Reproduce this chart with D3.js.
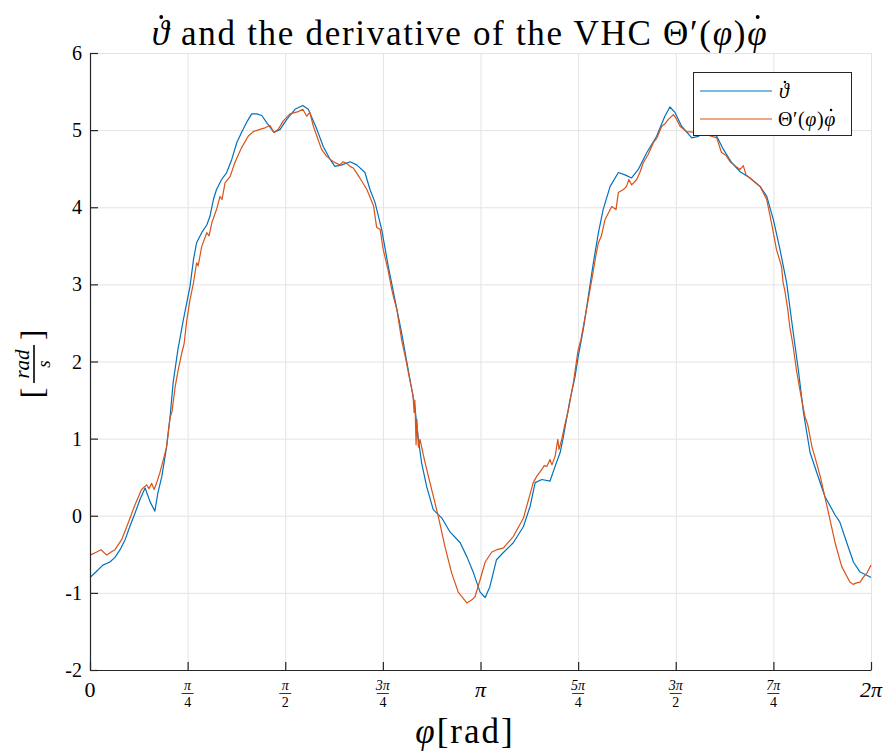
<!DOCTYPE html>
<html>
<head>
<meta charset="utf-8">
<script src="https://cdn.jsdelivr.net/npm/d3@7"></script>
<style>
  html, body { margin: 0; padding: 0; background: #fff; }
  svg { display: block; }
  text { font-family: "Liberation Serif", "DejaVu Serif", serif; fill: #000; }
</style>
</head>
<body>
<svg id="chart" width="888" height="753"></svg>
<script>
// ---- data (phi expressed in multiples of pi) ----
const thetaDotPhi = [0.000,0.015,0.033,0.051,0.064,0.077,0.090,0.102,0.115,0.128,0.141,0.154,0.166,0.174,0.184,0.196,0.205,0.213,0.225,0.239,0.256,0.265,0.273,0.286,0.299,0.307,0.316,0.324,0.337,0.350,0.363,0.376,0.388,0.401,0.414,0.427,0.440,0.452,0.471,0.487,0.504,0.525,0.545,0.559,0.581,0.597,0.615,0.627,0.645,0.666,0.683,0.704,0.717,0.730,0.747,0.764,0.781,0.798,0.815,0.832,0.841,0.849,0.862,0.879,0.901,0.922,0.948,0.965,0.982,0.999,1.012,1.024,1.041,1.058,1.084,1.110,1.127,1.140,1.157,1.178,1.191,1.204,1.212,1.229,1.242,1.250,1.263,1.276,1.289,1.302,1.314,1.332,1.353,1.370,1.387,1.404,1.426,1.451,1.472,1.485,1.498,1.515,1.541,1.558,1.579,1.605,1.622,1.643,1.665,1.690,1.716,1.733,1.750,1.767,1.784,1.801,1.814,1.827,1.844,1.861,1.882,1.908,1.920,1.938,1.955,1.972,1.997,2.000];
const thetaDot = [-0.80,-0.73,-0.64,-0.60,-0.54,-0.44,-0.31,-0.14,0.03,0.21,0.36,0.18,0.06,0.30,0.51,0.89,1.28,1.73,2.15,2.54,2.97,3.32,3.54,3.67,3.77,3.88,4.10,4.23,4.36,4.45,4.62,4.84,4.97,5.10,5.21,5.21,5.19,5.10,4.97,5.01,5.14,5.27,5.32,5.27,5.01,4.79,4.62,4.53,4.55,4.59,4.55,4.45,4.23,4.06,3.71,3.23,2.80,2.37,1.89,1.41,0.99,0.69,0.38,0.08,-0.03,-0.21,-0.35,-0.53,-0.74,-0.99,-1.06,-0.92,-0.57,-0.48,-0.35,-0.14,0.12,0.43,0.47,0.45,0.64,0.82,1.02,1.50,1.80,2.06,2.41,2.84,3.28,3.67,3.97,4.27,4.45,4.42,4.38,4.49,4.71,4.92,5.18,5.30,5.23,5.05,4.90,4.92,4.97,4.92,4.75,4.58,4.46,4.38,4.27,4.14,3.84,3.45,3.02,2.37,1.89,1.34,0.82,0.56,0.25,0.01,-0.08,-0.35,-0.60,-0.73,-0.79,-0.80];

const vhcPhi = [0.000,0.017,0.028,0.043,0.054,0.064,0.081,0.098,0.115,0.132,0.145,0.151,0.158,0.164,0.171,0.179,0.188,0.196,0.205,0.210,0.218,0.225,0.235,0.241,0.248,0.256,0.265,0.273,0.277,0.286,0.299,0.305,0.312,0.324,0.333,0.338,0.346,0.359,0.371,0.388,0.405,0.418,0.435,0.448,0.461,0.471,0.482,0.495,0.512,0.533,0.545,0.555,0.563,0.572,0.581,0.593,0.606,0.623,0.640,0.648,0.657,0.666,0.674,0.691,0.709,0.726,0.734,0.743,0.751,0.763,0.768,0.773,0.777,0.786,0.798,0.809,0.819,0.827,0.830,0.832,0.835,0.837,0.841,0.845,0.858,0.875,0.892,0.909,0.926,0.943,0.965,0.978,0.986,0.999,1.012,1.029,1.042,1.058,1.084,1.110,1.135,1.144,1.157,1.163,1.170,1.178,1.183,1.191,1.198,1.201,1.208,1.216,1.225,1.238,1.250,1.257,1.268,1.285,1.296,1.302,1.309,1.319,1.336,1.347,1.353,1.366,1.374,1.380,1.387,1.400,1.408,1.417,1.429,1.443,1.452,1.464,1.472,1.481,1.494,1.500,1.511,1.528,1.554,1.579,1.605,1.617,1.629,1.639,1.654,1.665,1.673,1.680,1.690,1.716,1.733,1.745,1.758,1.764,1.771,1.775,1.779,1.787,1.792,1.800,1.809,1.818,1.831,1.838,1.849,1.857,1.870,1.891,1.908,1.925,1.946,1.954,1.963,1.972,1.980,1.990,2.000];
const vhcDeriv = [-0.51,-0.47,-0.44,-0.51,-0.47,-0.44,-0.31,-0.09,0.14,0.34,0.40,0.35,0.42,0.34,0.43,0.56,0.73,0.89,1.27,1.35,1.67,1.87,2.11,2.23,2.54,2.80,3.02,3.28,3.24,3.49,3.67,3.63,3.80,3.97,4.14,4.10,4.32,4.40,4.58,4.77,4.92,4.98,5.01,5.03,5.06,4.97,5.01,5.12,5.21,5.24,5.27,5.18,5.23,5.05,4.92,4.75,4.66,4.59,4.55,4.59,4.57,4.53,4.51,4.38,4.23,4.02,3.74,3.71,3.45,3.19,3.06,2.93,2.84,2.67,2.28,2.02,1.76,1.57,1.34,1.50,0.92,1.25,0.89,0.99,0.69,0.34,-0.01,-0.40,-0.74,-0.99,-1.13,-1.09,-1.05,-0.83,-0.60,-0.47,-0.44,-0.42,-0.27,-0.03,0.43,0.51,0.60,0.65,0.64,0.73,0.66,0.77,0.99,0.86,0.99,1.18,1.37,1.73,2.15,2.28,2.58,3.06,3.39,3.54,3.62,3.84,4.01,3.97,4.19,4.23,4.27,4.36,4.29,4.36,4.45,4.58,4.68,4.84,4.90,5.05,5.08,5.14,5.20,5.16,5.05,4.98,4.97,4.94,4.90,4.71,4.67,4.59,4.53,4.49,4.54,4.42,4.38,4.27,4.10,3.80,3.45,3.35,3.23,3.02,2.93,2.67,2.45,2.22,1.89,1.63,1.28,1.18,0.89,0.75,0.51,0.04,-0.35,-0.66,-0.86,-0.89,-0.87,-0.86,-0.80,-0.74,-0.64];

const xTickPiMultiples = [0, 0.25, 0.5, 0.75, 1, 1.25, 1.5, 1.75, 2];
const xTickNum = ["0", "π", "π", "3π", "π", "5π", "3π", "7π", "2π"];
const xTickDen = [null, "4", "2", "4", null, "4", "2", "4", null];
const yTicks = [-2, -1, 0, 1, 2, 3, 4, 5, 6];

const blueColor = "#0072BD";
const orangeColor = "#D95319";

// ---- layout ----
const svg = d3.select("#chart");
const L = 90, R = 871, T = 53, B = 670;
const x = d3.scaleLinear().domain([0, 2 * Math.PI]).range([L, R]);
const y = d3.scaleLinear().domain([-2, 6]).range([B, T]);

// grid
const grid = svg.append("g");
grid.append("g").attr("transform", `translate(0,${B})`)
  .call(d3.axisBottom(x).tickValues(xTickPiMultiples.map(d => d * Math.PI)).tickSize(-(B - T)).tickFormat(""))
  .call(g => g.select(".domain").remove())
  .call(g => g.selectAll("line").attr("stroke", "#e3e3e3").attr("stroke-width", 1));
grid.append("g").attr("transform", `translate(${L},0)`)
  .call(d3.axisLeft(y).tickValues(yTicks).tickSize(-(R - L)).tickFormat(""))
  .call(g => g.select(".domain").remove())
  .call(g => g.selectAll("line").attr("stroke", "#e3e3e3").attr("stroke-width", 1));

// lines
const line = d3.line().x(d => x(d[0] * Math.PI)).y(d => y(d[1]));
const blueData = thetaDotPhi.map((p, i) => [p, thetaDot[i]]);
const orangeData = vhcPhi.map((p, i) => [p, vhcDeriv[i]]);
svg.append("path").datum(blueData).attr("d", line)
  .attr("fill", "none").attr("stroke", blueColor).attr("stroke-width", 1.2).attr("stroke-linejoin", "round");
svg.append("path").datum(orangeData).attr("d", line)
  .attr("fill", "none").attr("stroke", orangeColor).attr("stroke-width", 1.2).attr("stroke-linejoin", "round");

// axes
const axisColor = "#262626";
const xAxis = svg.append("g").attr("transform", `translate(0,${B})`)
  .call(d3.axisBottom(x).tickValues(xTickPiMultiples.map(d => d * Math.PI)).tickSizeInner(-8).tickSizeOuter(0).tickFormat(""));
xAxis.select(".domain").attr("stroke", axisColor).attr("stroke-width", 1.2);
xAxis.selectAll(".tick line").attr("stroke", axisColor).attr("stroke-width", 1.2);

const yAxis = svg.append("g").attr("transform", `translate(${L},0)`)
  .call(d3.axisLeft(y).tickValues(yTicks).tickSizeInner(-8).tickSizeOuter(0).tickFormat(""));
yAxis.select(".domain").attr("stroke", axisColor).attr("stroke-width", 1.2);
yAxis.selectAll(".tick line").attr("stroke", axisColor).attr("stroke-width", 1.2);

// y tick labels
svg.append("g").selectAll("text").data(yTicks).join("text")
  .attr("x", L - 8).attr("y", d => y(d)).attr("dy", "0.35em")
  .attr("text-anchor", "end").attr("font-size", 20)
  .text(d => d);

// x tick labels
const xl = svg.append("g");
xTickPiMultiples.forEach((m, i) => {
  const cx = x(m * Math.PI);
  if (xTickDen[i] === null) {
    const t = xl.append("text").attr("x", cx).attr("y", 697).attr("text-anchor", "middle").attr("font-size", 22);
    if (xTickNum[i] === "0") t.text("0");
    else t.append("tspan").attr("font-style", "italic").text(xTickNum[i]);
  } else {
    xl.append("text").attr("x", cx).attr("y", 690).attr("text-anchor", "middle").attr("font-size", 14)
      .attr("font-style", "italic").text(xTickNum[i]);
    xl.append("line").attr("x1", cx - 6).attr("x2", cx + 6).attr("y1", 693.5).attr("y2", 693.5)
      .attr("stroke", "#000").attr("stroke-width", 0.8);
    xl.append("text").attr("x", cx).attr("y", 707).attr("text-anchor", "middle").attr("font-size", 14)
      .text(xTickDen[i]);
  }
});

// x label
const xlab = svg.append("text").attr("x", 465).attr("y", 743).attr("text-anchor", "middle")
  .attr("font-size", 35).attr("letter-spacing", 2);
xlab.append("tspan").attr("font-style", "italic").text("φ");
xlab.append("tspan").text("[rad]");

// y label (rotated fraction)
const yl = svg.append("g").attr("transform", "translate(34,364) rotate(-90)");
yl.append("text").attr("x", -29).attr("y", 9).attr("text-anchor", "middle").attr("font-size", 32).text("[");
yl.append("text").attr("x", 29).attr("y", 9).attr("text-anchor", "middle").attr("font-size", 32).text("]");
yl.append("text").attr("x", 0).attr("y", -5).attr("text-anchor", "middle").attr("font-size", 21).attr("font-style", "italic").text("rad");
yl.append("line").attr("x1", -19).attr("x2", 19).attr("y1", 0).attr("y2", 0).attr("stroke", "#000").attr("stroke-width", 1.6);
yl.append("text").attr("x", 0).attr("y", 16).attr("text-anchor", "middle").attr("font-size", 19).attr("font-style", "italic").text("s");

// helper: draw a dot accent above a character of a text element
function dotAbove(textSel, idx, size, baseline, rise, shift) {
  const b = textSel.node().getExtentOfChar(idx);
  svg.append("circle").attr("cx", b.x + b.width / 2 + shift).attr("cy", baseline - rise * size)
    .attr("r", Math.max(1.3, size * 0.055)).attr("fill", "#000");
}

// title
const titleSize = 35, titleBase = 45;
const title = svg.append("text").attr("x", 460).attr("y", titleBase).attr("text-anchor", "middle")
  .attr("font-size", titleSize).attr("letter-spacing", 1.7);
title.append("tspan").attr("font-style", "italic").text("ϑ");
title.append("tspan").text(" and the derivative of the VHC Θ′(");
title.append("tspan").attr("font-style", "italic").text("φ");
title.append("tspan").text(")");
title.append("tspan").attr("font-style", "italic").text("φ");
const tLen = title.node().getNumberOfChars();
dotAbove(title, 0, titleSize, titleBase, 0.8, 0);
dotAbove(title, tLen - 1, titleSize, titleBase, 0.8, 0);

// legend
const lg = svg.append("g");
lg.append("rect").attr("x", 693.5).attr("y", 72.5).attr("width", 158).attr("height", 63)
  .attr("fill", "#fff").attr("stroke", axisColor).attr("stroke-width", 1);
lg.append("line").attr("x1", 700).attr("x2", 772).attr("y1", 91).attr("y2", 91).attr("stroke", blueColor).attr("stroke-width", 1.2);
lg.append("line").attr("x1", 700).attr("x2", 772).attr("y1", 119).attr("y2", 119).attr("stroke", orangeColor).attr("stroke-width", 1.2);
const l1 = lg.append("text").attr("x", 779).attr("y", 98).attr("font-size", 20).attr("font-style", "italic").text("ϑ");
dotAbove(l1, 0, 20, 98, 0.8, 1);
const l2 = lg.append("text").attr("x", 778).attr("y", 126).attr("font-size", 20).attr("letter-spacing", 0.6);
l2.append("tspan").text("Θ′(");
l2.append("tspan").attr("font-style", "italic").text("φ");
l2.append("tspan").text(")");
l2.append("tspan").attr("font-style", "italic").text("φ");
dotAbove(l2, l2.node().getNumberOfChars() - 1, 20, 126, 0.8, 1);
</script>
</body>
</html>
